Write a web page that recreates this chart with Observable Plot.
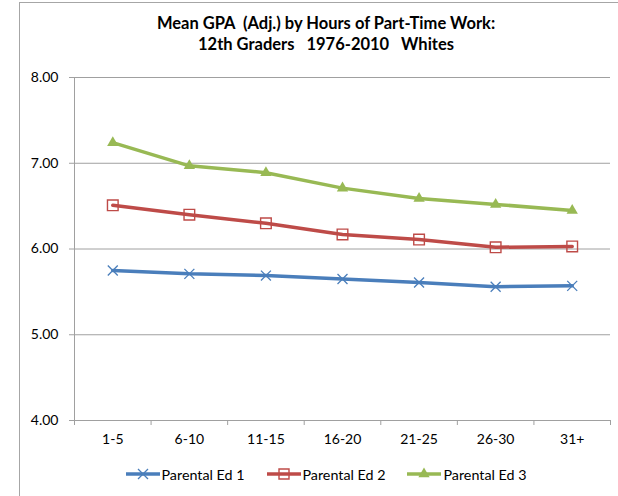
<!DOCTYPE html>
<html>
<head>
<meta charset="utf-8">
<script src="https://cdn.jsdelivr.net/npm/d3@7"></script>
<script src="https://cdn.jsdelivr.net/npm/@observablehq/plot@0.6"></script>
<style>
  html, body { margin: 0; padding: 0; background: #fff; }
  #wrap { position: relative; width: 618px; height: 496px; overflow: hidden; background: #fff; font-family: Lato, "Open Sans", sans-serif; }
  #frame { position: absolute; left: 19px; top: 2px; width: 640px; height: 520px; border: 1.5px solid #a6a6a6; box-sizing: border-box; }
  #title { position: absolute; left: 126px; width: 400px; top: 13px; text-align: center; font-weight: bold; font-size: 16.5px; line-height: 21px; color: #000; }
  #chart { position: absolute; left: 0; top: 60px; }
  #legend { position: absolute; left: 0; width: 652px; top: 465px; height: 18px; display: flex; justify-content: center; align-items: center; gap: 22px; font-size: 14.3px; color: #000; }
  .item { display: flex; align-items: center; }
  .item span { margin-left: 2px; }
</style>
</head>
<body>
<div id="wrap">
  <div id="frame"></div>
  <div id="title">Mean GPA&nbsp; (Adj.) by Hours of Part-Time Work:<br>12th Graders&nbsp;&nbsp; 1976-2010&nbsp;&nbsp; Whites</div>
  <div id="chart"></div>
  <div id="legend"></div>
</div>
<script>
const categories = ["1-5", "6-10", "11-15", "16-20", "21-25", "26-30", "31+"];
const seriesNames = ["Parental Ed 1", "Parental Ed 2", "Parental Ed 3"];
const ed1 = [5.75, 5.71, 5.69, 5.65, 5.61, 5.56, 5.57];
const ed2 = [6.51, 6.40, 6.30, 6.17, 6.11, 6.02, 6.03];
const ed3 = [7.24, 6.97, 6.89, 6.71, 6.59, 6.52, 6.45];
const yTicks = [4, 5, 6, 7, 8];
const colors = ["#4A7EBB", "#BE4B48", "#98B954"];

const seriesValues = [ed1, ed2, ed3];
const rows = [];
seriesValues.forEach((vals, s) => {
  vals.forEach((v, i) => rows.push({series: seriesNames[s], pos: i + 0.5, cat: categories[i], value: v}));
});
const bySeries = name => rows.filter(d => d.series === name);

const axisGray = "#a0a0a0";

const chart = Plot.plot({
  width: 618,
  height: 400,
  marginTop: 17,
  marginBottom: 40,
  marginLeft: 74,
  marginRight: 8,
  x: {type: "linear", domain: [0, categories.length]},
  y: {domain: [yTicks[0], yTicks[yTicks.length - 1]]},
  color: {domain: seriesNames, range: colors},
  style: {fontFamily: "Lato, 'Open Sans', sans-serif", fontSize: "14px", color: "#000", background: "transparent"},
  marks: [
    Plot.gridY(yTicks.slice(1), {stroke: axisGray, strokeOpacity: 1, strokeWidth: 1}),
    Plot.axisY(yTicks, {tickFormat: d3.format(".2f"), tickSize: 5, tickPadding: 11, stroke: axisGray, strokeOpacity: 1, label: null, fill: "#000"}),
    Plot.ruleX([0], {stroke: axisGray}),
    Plot.ruleY([yTicks[0]], {stroke: axisGray}),
    Plot.axisX(d3.range(categories.length + 1), {tickSize: 5, tickFormat: () => "", stroke: axisGray, strokeOpacity: 1, label: null}),
    Plot.axisX(categories.map((c, i) => i + 0.5), {tickSize: 0, tickPadding: 14, tickFormat: d => categories[Math.floor(d)], label: null, fill: "#000"}),
    Plot.line(rows, {x: "pos", y: "value", z: "series", stroke: "series", strokeWidth: 3.5, curve: "linear"}),
    Plot.dot(bySeries(seriesNames[0]), {x: "pos", y: "value", symbol: "times", r: 4.6, stroke: colors[0], strokeWidth: 1.3}),
    Plot.dot(bySeries(seriesNames[1]), {x: "pos", y: "value", symbol: "square", r: 6, stroke: colors[1], fill: "none", strokeWidth: 1.4}),
    Plot.dot(bySeries(seriesNames[2]), {x: "pos", y: "value", symbol: "triangle", r: 4.2, fill: colors[2], stroke: "none"})
  ]
});
document.getElementById("chart").appendChild(chart);

// legend
const symbols = [d3.symbolTimes, d3.symbolSquare, d3.symbolTriangle];
const symSizes = [67, 100, 55];
const legend = d3.select("#legend");
seriesNames.forEach((name, s) => {
  const item = legend.append("div").attr("class", "item");
  const svg = item.append("svg").attr("width", 34).attr("height", 14);
  svg.append("line").attr("x1", 0).attr("x2", 34).attr("y1", 7).attr("y2", 7)
    .attr("stroke", colors[s]).attr("stroke-width", 3.5);
  const p = svg.append("path").attr("d", d3.symbol(symbols[s], symSizes[s])()).attr("transform", "translate(17,7)");
  if (s === 0) p.attr("stroke", colors[s]).attr("fill", "none").attr("stroke-width", 1.3);
  else if (s === 1) p.attr("stroke", colors[s]).attr("fill", "none").attr("stroke-width", 1.4);
  else p.attr("fill", colors[s]);
  item.append("span").text(name);
});
</script>
</body>
</html>
